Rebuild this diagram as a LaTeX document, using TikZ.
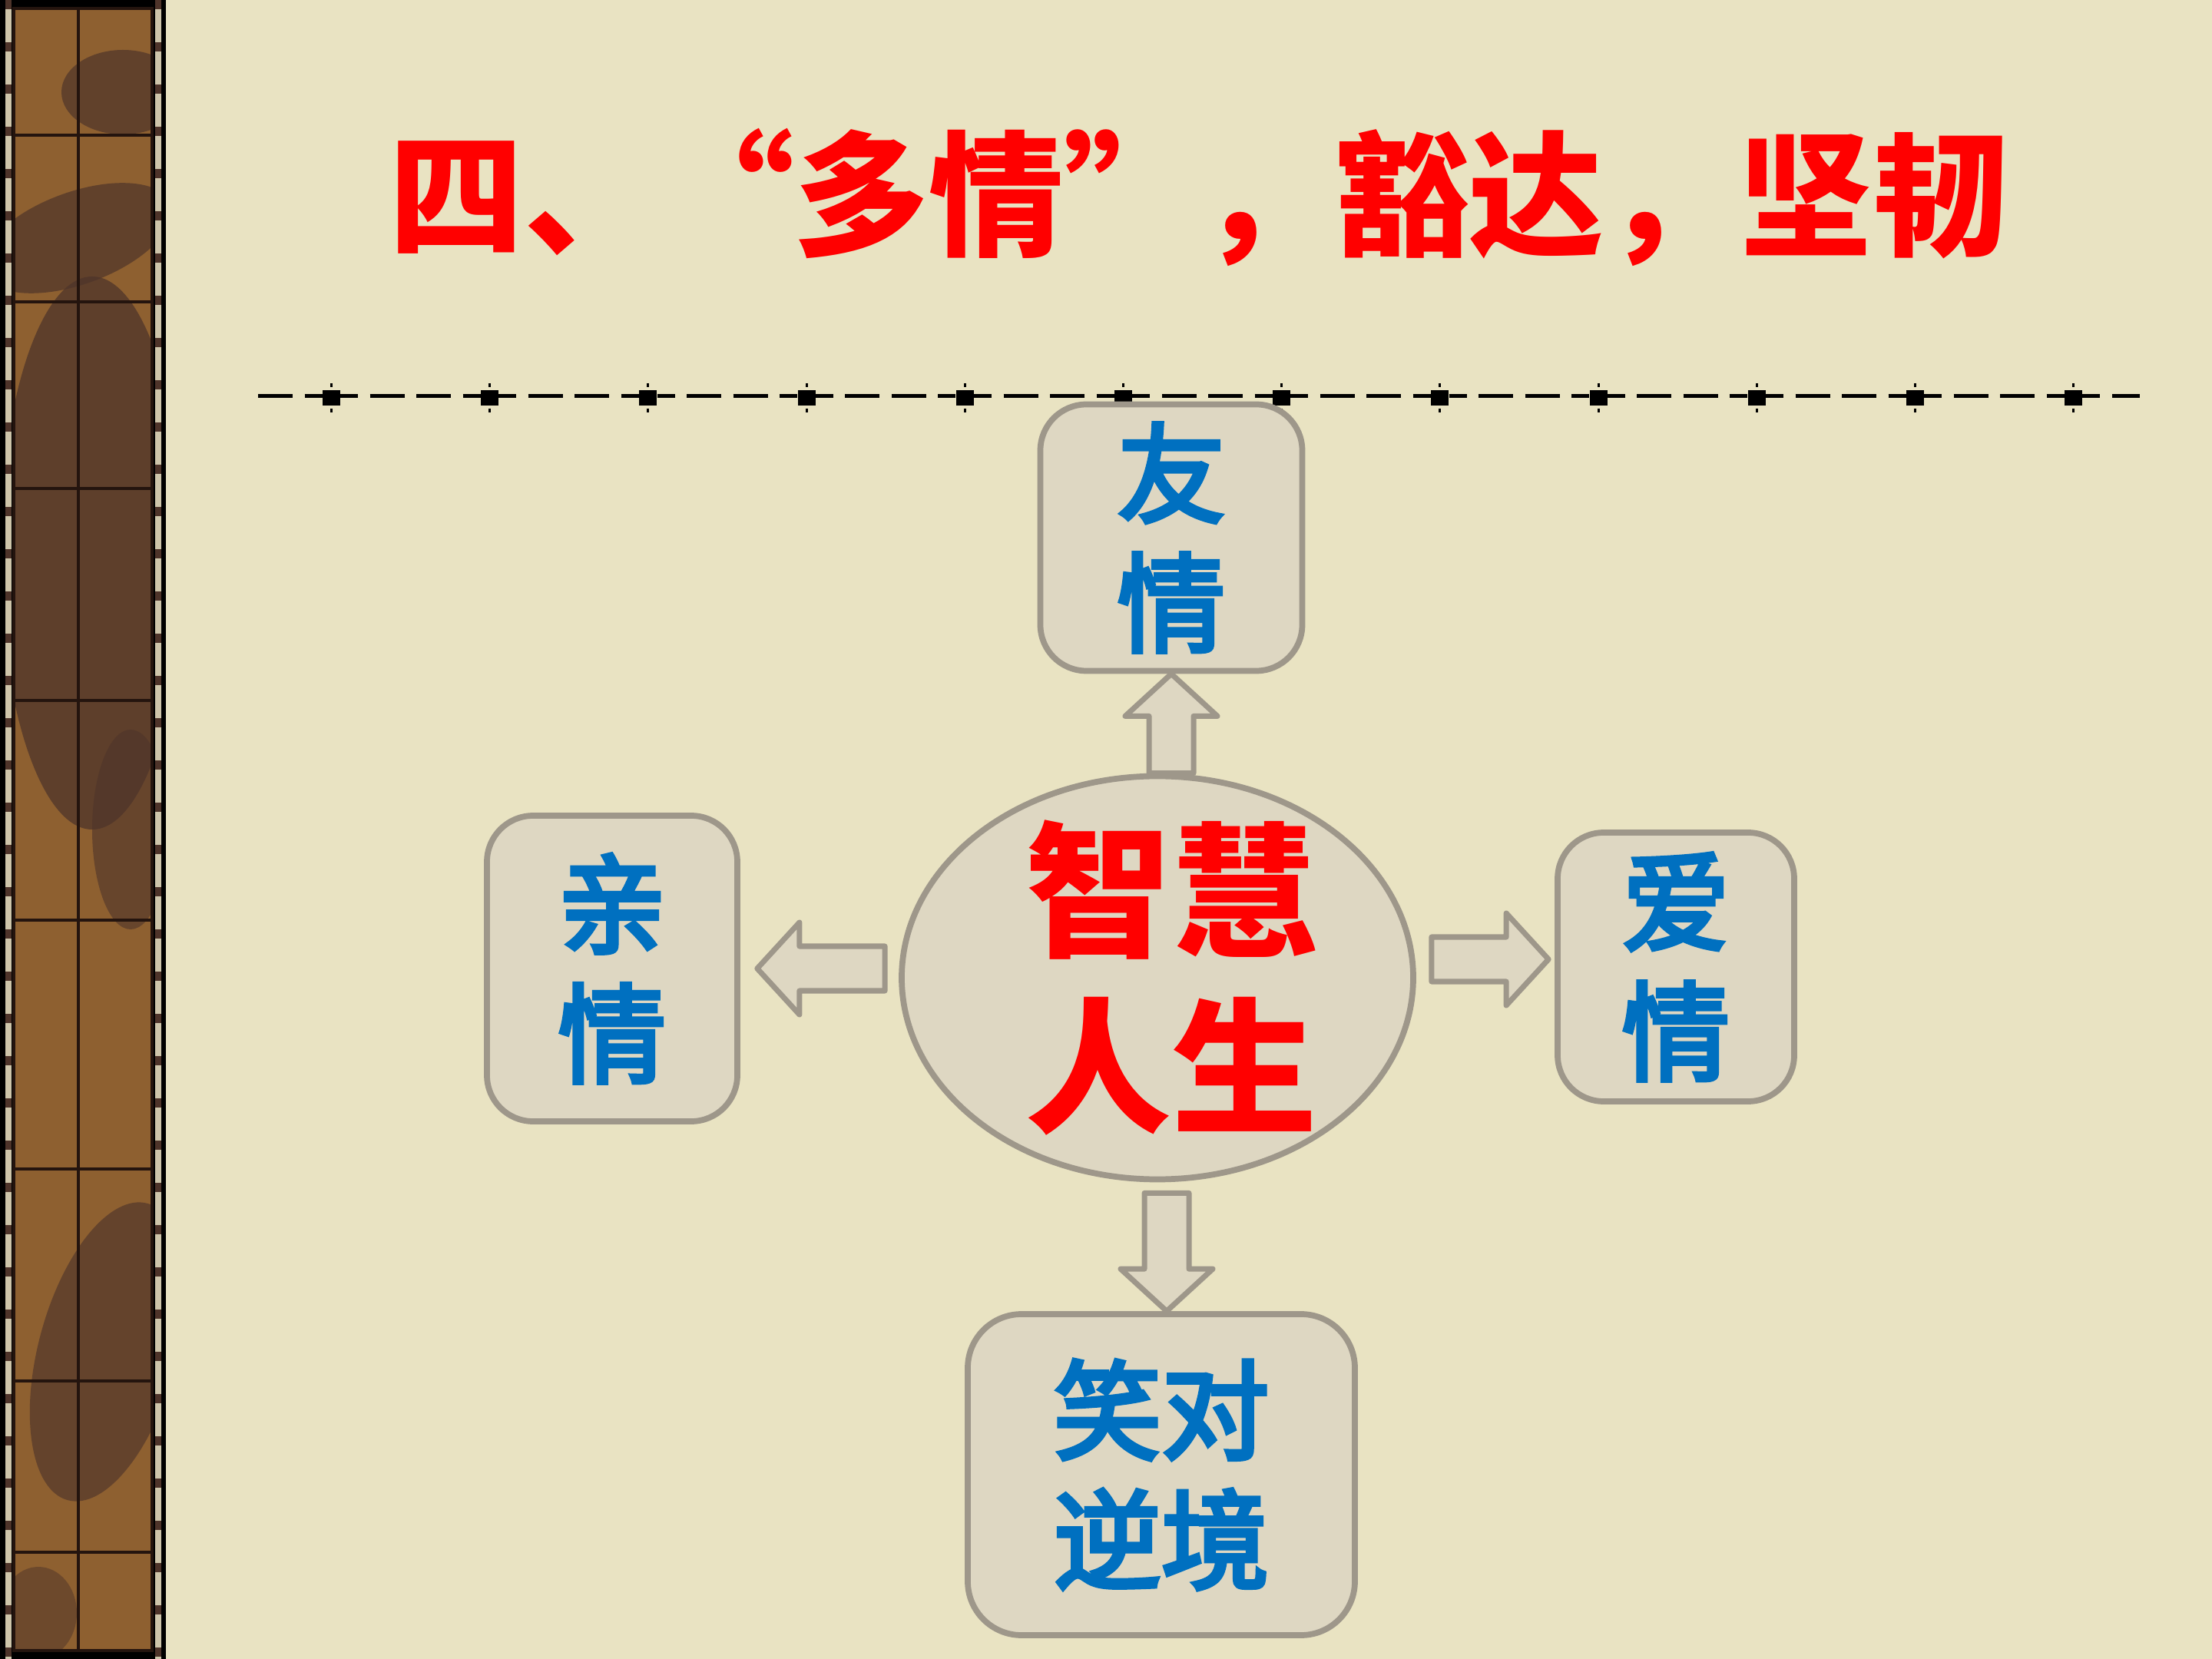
\documentclass[tikz,border=0pt]{standalone}
\usepackage{fontspec}
\newfontfamily\cjk{Noto Sans CJK SC}
\newfontfamily\cjkmed[FakeBold=4]{Noto Sans CJK SC}
\usetikzlibrary{calc,shapes.geometric}
\definecolor{paper}{RGB}{233,227,194}
\definecolor{boxfill}{RGB}{222,215,194}
\definecolor{boxline}{RGB}{158,151,138}
\definecolor{wordblue}{RGB}{0,112,192}
\definecolor{stripbrown}{RGB}{142,96,48}
\definecolor{stripdark}{RGB}{78,52,42}
\definecolor{stripedge}{RGB}{206,197,170}
\definecolor{stripline}{RGB}{36,20,14}

\newcommand{\fatarrow}[2]{%
  \coordinate (fa-base) at ($(#2)!0.55cm!(#1)$);
  \filldraw[blockarr] ($(#1)!0.29cm!90:(#2)$) -- ($(fa-base)!0.29cm!90:(#2)$)
    -- ($(fa-base)!0.6cm!90:(#2)$) -- (#2) -- ($(fa-base)!0.6cm!-90:(#2)$)
    -- ($(fa-base)!0.29cm!-90:(#2)$) -- ($(#1)!0.29cm!-90:(#2)$) -- cycle;}

\begin{document}
\begin{tikzpicture}[
  rbox/.style={draw=boxline,fill=boxfill,line width=2.2pt,rounded corners=0.6cm,align=center,
    text=wordblue,font=\cjkmed\fontsize{40pt}{48pt}\selectfont},
  bubble/.style={ellipse,draw=boxline,fill=boxfill,line width=2.2pt,inner sep=0pt},
  blockarr/.style={draw=boxline,fill=boxfill,line width=2pt,line join=round},
  stripgrid/.style={stripline,line width=0.035cm}]
\useasboundingbox (0,0) rectangle (28.8,-21.6);
\fill[paper] (0,0) rectangle (28.8,-21.6);

% left strip
\fill[black] (0,0) rectangle (2.16,-21.6);
\fill[stripedge] (0.07,0) rectangle (0.15,-21.6); \fill[stripedge] (2.02,0) rectangle (2.10,-21.6);
\draw[stripdark,line width=0.08cm,dash pattern=on 0.12cm off 0.43cm] (0.11,0) -- (0.11,-21.6);
\draw[stripdark,line width=0.08cm,dash pattern=on 0.12cm off 0.43cm] (2.06,0) -- (2.06,-21.6);
\begin{scope}
\clip (0.18,-0.11) rectangle (1.98,-21.49);
\fill[stripbrown] (0.18,-0.11) rectangle (1.98,-21.49);
\fill[stripdark,opacity=0.7] (1.6,-1.2) ellipse (0.8 and 0.55);
\fill[stripdark,opacity=0.7,rotate around={20:(1.0,-3.1)}] (1.0,-3.1) ellipse (1.3 and 0.6);
\fill[stripdark,opacity=0.75] (1.2,-7.2) ellipse (1.2 and 3.6);
\fill[stripdark,opacity=0.6] (1.7,-10.8) ellipse (0.5 and 1.3);
\fill[stripdark,opacity=0.65,rotate around={-15:(1.4,-17.6)}] (1.4,-17.6) ellipse (0.9 and 2.0);
\fill[stripdark,opacity=0.5] (0.5,-21.0) ellipse (0.5 and 0.6);
\end{scope}
\draw[stripgrid] (0.18,-0.11) rectangle (1.98,-21.49) (1.02,-0.11) -- (1.02,-21.49);
\draw[stripgrid] (0.18,-1.76) -- (1.98,-1.76) (0.18,-3.93) -- (1.98,-3.93);
\draw[stripgrid] (0.18,-6.36) -- (1.98,-6.36) (0.18,-9.12) -- (1.98,-9.12);
\draw[stripgrid] (0.18,-11.98) -- (1.98,-11.98) (0.18,-15.22) -- (1.98,-15.22);
\draw[stripgrid] (0.18,-17.98) -- (1.98,-17.98) (0.18,-20.21) -- (1.98,-20.21);

% title and rule
\node[text=red,font=\cjk\bfseries\fontsize{50pt}{60pt}\selectfont] (title) at (15.61,-2.57)
  {四、\makebox[1em][r]{“}多情\makebox[1em][l]{”}，豁达，坚韧};
\draw[line width=0.05cm,dash pattern=on 0.45cm off 0.155cm on 0.23cm off 0.237cm on 0.23cm off 0.155cm on 0.45cm off 0.155cm]
  (3.36,-5.16) -- (27.86,-5.16);
\foreach \i in {0,...,11} {
  \fill ({4.2+2.062*\i},-5.08) rectangle ++(0.23,-0.2);
  \draw[line width=0.03cm] ({4.315+2.062*\i},-4.99) -- ++(0,-0.05) ({4.315+2.062*\i},-5.32) -- ++(0,-0.05);
}

% diagram
\node[rbox,minimum width=3.41cm,minimum height=3.47cm] (friend) at (15.25,-7.00) {友\\情};
\node[rbox,minimum width=3.26cm,minimum height=3.98cm] (fam) at (7.97,-12.61) {亲\\情};
\node[rbox,minimum width=3.08cm,minimum height=3.50cm] (love) at (21.82,-12.59) {爱\\情};
\node[rbox,minimum width=5.04cm,minimum height=4.18cm,rounded corners=0.7cm] (adv) at (15.12,-19.20) {笑对\\逆境};
\node[bubble,minimum width=6.66cm,minimum height=5.25cm] (wis) at (15.07,-12.73) {};
\node[align=center,text=red,font=\cjk\bfseries\fontsize{54pt}{65pt}\selectfont] (wislbl)
  at ([xshift=0.18cm]wis.center) {智慧\\人生};

\coordinate (up0) at (friend.south |- wis.north);
\coordinate (dn0) at ($(wis.south)+(0.12,-0.14)$);
\coordinate (dn1) at (dn0 |- adv.north);
\coordinate (lf0) at ($(wis.west |- fam.east)+(-0.18,0)$);
\coordinate (lf1) at ($(fam.east)+(0.22,0)$);
\coordinate (rt0) at ($(wis.east |- love.west)+(0.2,0.1)$);
\coordinate (rt1) at ($(love.west)+(-0.08,0.1)$);
\fatarrow{up0}{friend.south} \fatarrow{dn0}{dn1}
\fatarrow{lf0}{lf1} \fatarrow{rt0}{rt1}
\end{tikzpicture}
\end{document}
